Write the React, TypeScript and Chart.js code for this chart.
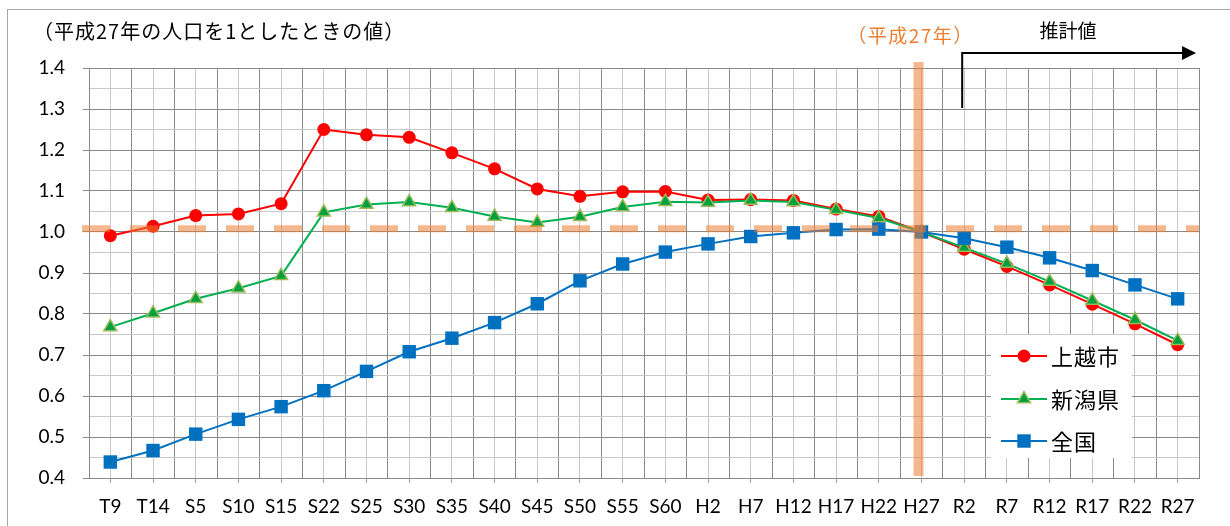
import React, { useEffect, useRef } from "react";
import { Chart, registerables } from "chart.js";

Chart.register(...registerables);

const categories = ["T9", "T14", "S5", "S10", "S15", "S22", "S25", "S30", "S35", "S40", "S45", "S50", "S55", "S60", "H2", "H7", "H12", "H17", "H22", "H27", "R2", "R7", "R12", "R17", "R22", "R27"];
const seriesNames = ["上越市", "新潟県", "全国"];
const joetsu = [0.991, 1.014, 1.040, 1.044, 1.069, 1.250, 1.237, 1.231, 1.193, 1.154, 1.105, 1.087, 1.098, 1.099, 1.078, 1.079, 1.077, 1.056, 1.038, 1.000, 0.958, 0.916, 0.871, 0.824, 0.776, 0.725];
const niigata = [0.768, 0.802, 0.837, 0.863, 0.893, 1.048, 1.067, 1.073, 1.059, 1.038, 1.023, 1.037, 1.061, 1.074, 1.072, 1.077, 1.073, 1.054, 1.034, 1.000, 0.962, 0.923, 0.879, 0.833, 0.786, 0.735];
const zenkoku = [0.439, 0.467, 0.507, 0.543, 0.574, 0.613, 0.660, 0.708, 0.741, 0.779, 0.825, 0.881, 0.922, 0.951, 0.971, 0.989, 0.998, 1.006, 1.007, 1.000, 0.985, 0.963, 0.937, 0.906, 0.871, 0.837];
const yMin = 0.4;
const yMax = 1.4;
const titleText = "（平成27年の人口を1としたときの値）";
const baseYearText = "（平成27年）";
const baseYearIndex = 19;
const baseLineValue = 1.008;
const estimateText = "推計値";

const DARK = "#8a8a8a";
const LIGHT = "#c8c8c8";
const ORANGE = "rgba(237,125,49,0.55)";
const CJK = '"Noto Sans CJK JP", sans-serif';

const toPoints = (arr: number[]) => arr.map((v, i) => ({ x: i, y: v }));

const isMajorY = (v: number) => Math.round(v * 100) % 10 === 0;
const isCenterX = (v: number) => Math.abs(v - Math.round(v)) < 1e-6;

function drawMarker(ctx: CanvasRenderingContext2D, kind: string, x: number, y: number, r: number, fill: string, stroke: string, bw: number) {
  ctx.save();
  ctx.fillStyle = fill;
  ctx.strokeStyle = stroke;
  ctx.lineWidth = bw;
  ctx.beginPath();
  if (kind === "circle") {
    ctx.arc(x, y, r, 0, Math.PI * 2);
  } else if (kind === "triangle") {
    let rad = 0;
    ctx.moveTo(x + Math.sin(rad) * r, y - Math.cos(rad) * r);
    rad += (2 * Math.PI) / 3;
    ctx.lineTo(x + Math.sin(rad) * r, y - Math.cos(rad) * r);
    rad += (2 * Math.PI) / 3;
    ctx.lineTo(x + Math.sin(rad) * r, y - Math.cos(rad) * r);
    ctx.closePath();
  } else {
    const s = Math.SQRT1_2 * r;
    ctx.rect(x - s, y - s, 2 * s, 2 * s);
  }
  ctx.fill();
  if (bw > 0) ctx.stroke();
  ctx.restore();
}

const overlayPlugin = {
  id: "overlay",
  afterDatasetsDraw(chart: any) {
    const { ctx, chartArea, scales } = chart;
    const xs = scales.x;
    const ys = scales.y;
    ctx.save();
    const yRef = ys.getPixelForValue(baseLineValue);
    ctx.strokeStyle = ORANGE;
    ctx.lineWidth = 7;
    ctx.setLineDash([28, 20]);
    ctx.beginPath();
    ctx.moveTo(chartArea.left - 7, yRef);
    ctx.lineTo(chartArea.right, yRef);
    ctx.stroke();
    ctx.setLineDash([]);
    const xb = xs.getPixelForValue(baseYearIndex) - 3;
    ctx.fillStyle = ORANGE;
    ctx.fillRect(xb - 5, chartArea.top - 6, 10, chartArea.bottom - 2 - (chartArea.top - 6));
    const lx = 991, ly = 335, lw = 141, lh = 123;
    ctx.fillStyle = "#ffffff";
    ctx.fillRect(lx, ly, lw, lh);
    const items = [
      { name: seriesNames[0], color: "#FF0000", kind: "circle", r: 6.5, fill: "#FF0000", stroke: "#FF0000", bw: 0, y: 356 },
      { name: seriesNames[1], color: "#00B050", kind: "triangle", r: 7.5, fill: "#00A040", stroke: "#9BBB59", bw: 1.5, y: 399 },
      { name: seriesNames[2], color: "#0070C0", kind: "rect", r: 9.5, fill: "#0070C0", stroke: "#0070C0", bw: 0, y: 441 },
    ];
    items.forEach((it) => {
      ctx.strokeStyle = it.color;
      ctx.lineWidth = 2;
      ctx.beginPath();
      ctx.moveTo(1001, it.y);
      ctx.lineTo(1047, it.y);
      ctx.stroke();
      drawMarker(ctx, it.kind, 1024, it.y, it.r, it.fill, it.stroke, it.bw);
      ctx.fillStyle = "#000";
      ctx.font = `22px ${CJK}`;
      ctx.textAlign = "left";
      ctx.textBaseline = "middle";
      (ctx as any).letterSpacing = "1px";
      ctx.fillText(it.name, 1051, it.y + 1);
      (ctx as any).letterSpacing = "0px";
    });
    ctx.restore();
  },
  afterDraw(chart: any) {
    const { ctx, scales, chartArea } = chart;
    const xs = scales.x;
    ctx.save();
    ctx.textBaseline = "middle";
    ctx.fillStyle = "#000";
    ctx.font = `20px ${CJK}`;
    ctx.textAlign = "left";
    (ctx as any).letterSpacing = "1px";
    ctx.fillText(titleText, 33, 31);
    const xb = xs.getPixelForValue(baseYearIndex) - 3;
    ctx.fillStyle = "#ED7D31";
    ctx.textAlign = "center";
    ctx.font = `19px ${CJK}`;
    (ctx as any).letterSpacing = "1.5px";
    ctx.fillText(baseYearText, xb - 8, 36);
    (ctx as any).letterSpacing = "0px";
    ctx.fillStyle = "#000";
    ctx.font = `19px ${CJK}`;
    ctx.fillText(estimateText, 1068, 31);
    const ax = xs.getPixelForValue(baseYearIndex + 1) - 2;
    ctx.strokeStyle = "#000";
    ctx.lineWidth = 2;
    ctx.beginPath();
    ctx.moveTo(ax, 108);
    ctx.lineTo(ax, 53);
    ctx.lineTo(chartArea.right - 16, 53);
    ctx.stroke();
    ctx.fillStyle = "#000";
    ctx.beginPath();
    ctx.moveTo(chartArea.right - 3, 53);
    ctx.lineTo(chartArea.right - 17, 46);
    ctx.lineTo(chartArea.right - 17, 60);
    ctx.closePath();
    ctx.fill();
    ctx.restore();
  },
};

export default function App() {
  const ref = useRef<HTMLCanvasElement | null>(null);
  useEffect(() => {
    if (!ref.current) return;
    Chart.defaults.font.family = "Lato, sans-serif";
    const chart = new Chart(ref.current, {
      type: "line",
      data: {
        datasets: [
          {
            label: seriesNames[0],
            data: toPoints(joetsu),
            borderColor: "#FF0000",
            backgroundColor: "#FF0000",
            borderWidth: 2,
            pointStyle: "circle",
            pointRadius: 6.5,
            pointBackgroundColor: "#FF0000",
            pointBorderColor: "#FF0000",
            pointBorderWidth: 0,
            order: 3,
          },
          {
            label: seriesNames[1],
            data: toPoints(niigata),
            borderColor: "#00B050",
            backgroundColor: "#00A040",
            borderWidth: 2,
            pointStyle: "triangle",
            pointRadius: 7.5,
            pointBackgroundColor: "#00A040",
            pointBorderColor: "#9BBB59",
            pointBorderWidth: 1.5,
            order: 2,
          },
          {
            label: seriesNames[2],
            data: toPoints(zenkoku),
            borderColor: "#0070C0",
            backgroundColor: "#0070C0",
            borderWidth: 2,
            pointStyle: "rect",
            pointRadius: 9.5,
            pointBackgroundColor: "#0070C0",
            pointBorderColor: "#0070C0",
            pointBorderWidth: 0,
            order: 1,
          },
        ],
      },
      options: {
        responsive: false,
        animation: false,
        layout: { padding: { top: 68, right: 31, left: 0, bottom: 0 } },
        plugins: { legend: { display: false }, tooltip: { enabled: false }, title: { display: false } },
        scales: {
          x: {
            type: "linear",
            min: -0.5,
            max: categories.length - 0.5,
            afterFit: (s: any) => { s.height = 48; },
            ticks: {
              stepSize: 0.5,
              autoSkip: false,
              maxRotation: 0,
              padding: 12,
              color: "#000",
              font: { size: 19, family: "Lato, sans-serif" },
              callback: (v: any) => (isCenterX(Number(v)) ? categories[Math.round(Number(v))] : ""),
            },
            grid: {
              color: (c: any) => (c.tick && isCenterX(c.tick.value) ? LIGHT : DARK),
              tickColor: (c: any) => (c.tick && isCenterX(c.tick.value) ? "#a0a0a0" : "rgba(0,0,0,0)"),
              tickLength: 5,
              lineWidth: 1,
            },
            border: { display: true, color: DARK },
          },
          y: {
            min: yMin,
            max: yMax,
            afterFit: (s: any) => { s.width = 89; },
            ticks: {
              stepSize: 0.05,
              autoSkip: false,
              padding: 18,
              color: "#000",
              font: { size: 19, family: "Lato, sans-serif" },
              callback: (v: any) => (isMajorY(Number(v)) ? Number(v).toFixed(1) : ""),
            },
            grid: {
              color: (c: any) => (c.tick && isMajorY(c.tick.value) ? DARK : LIGHT),
              tickColor: (c: any) => (c.tick && isMajorY(c.tick.value) ? DARK : "rgba(0,0,0,0)"),
              tickLength: 6,
              lineWidth: 1,
            },
            border: { display: true, color: DARK },
          },
        },
      },
      plugins: [overlayPlugin],
    } as any);
    return () => chart.destroy();
  }, []);

  return (
    <div style={{ position: "fixed", left: 0, top: 0, width: 1230, height: 526, overflow: "hidden", background: "#fff" }}>
      <div style={{ position: "absolute", left: 7, top: 9, width: 1400, height: 700, border: "1px solid #a6a6a6" }} />
      <canvas ref={ref} width={1230} height={526} style={{ position: "absolute", left: 0, top: 0 }} />
    </div>
  );
}
